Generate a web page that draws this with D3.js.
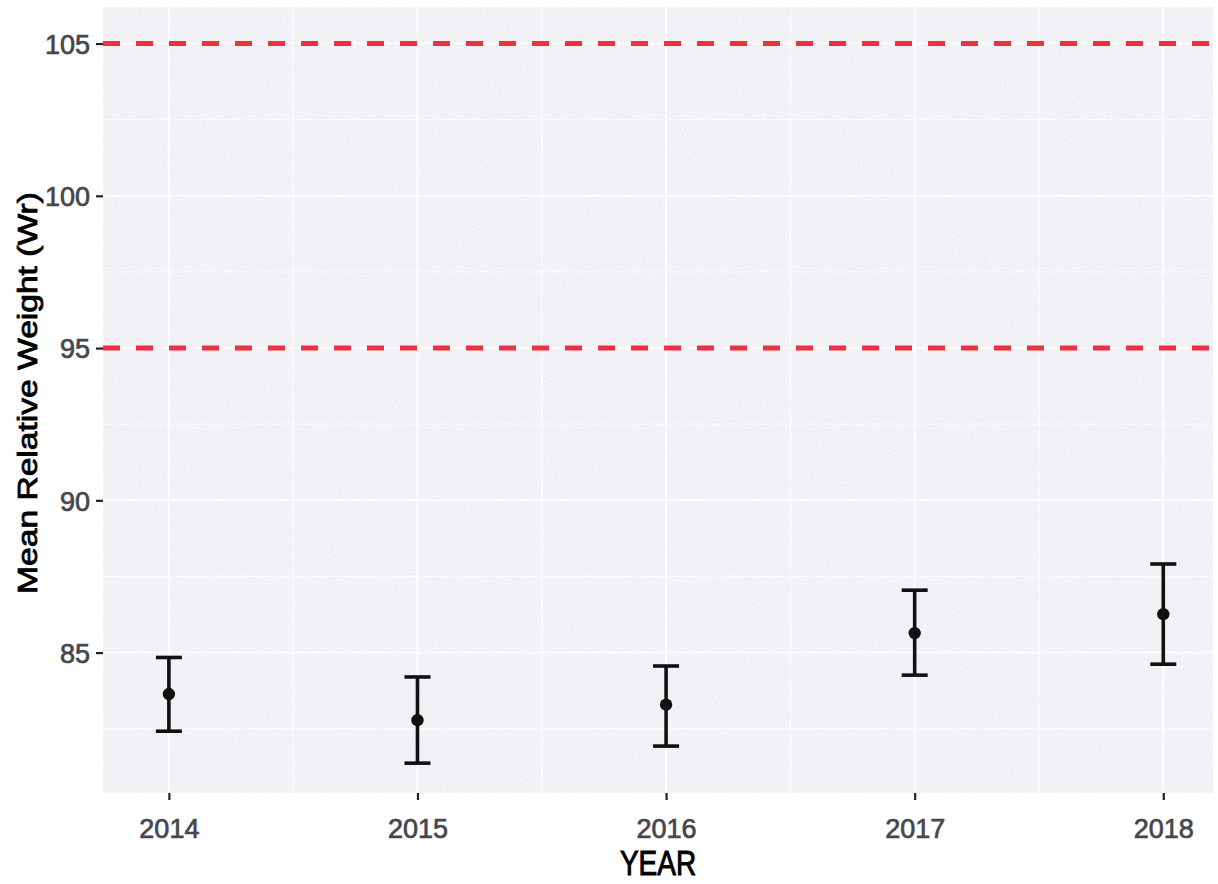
<!DOCTYPE html>
<html>
<head>
<meta charset="utf-8">
<script src="https://cdn.jsdelivr.net/npm/d3@7"></script>
<style>
  html, body { margin: 0; padding: 0; background: #ffffff; }
  svg { display: block; }
</style>
</head>
<body>
<svg id="chart" width="1218" height="884"></svg>
<script>
// Mean relative weight (Wr) per sampling year, with error bar limits
const years = [2014, 2015, 2016, 2017, 2018];
const meanWr = [83.64, 82.78, 83.29, 85.64, 86.26];
const upperWr = [84.84, 84.20, 84.56, 87.05, 87.91];
const lowerWr = [82.42, 81.37, 81.93, 84.26, 84.62];
// Target range reference lines
const targetLines = [95, 105];
const yTicks = [85, 90, 95, 100, 105];
const xTicks = [2014, 2015, 2016, 2017, 2018];

const W = 1218, H = 884;
const margin = { left: 103, right: 5, top: 7, bottom: 91 };
const svg = d3.select("#chart");

const x = d3.scaleLinear()
  .domain([2013.735, 2018.2])
  .range([margin.left, W - margin.right]);
const y = d3.scaleLinear()
  .domain([80.39, 106.2])
  .range([H - margin.bottom, margin.top]);

// Speckled texture for the panel
const defs = svg.append("defs");
const grain = defs.append("filter").attr("id", "grain")
  .attr("x", 0).attr("y", 0).attr("width", 1).attr("height", 1);
grain.append("feTurbulence").attr("type", "fractalNoise")
  .attr("baseFrequency", 0.75).attr("numOctaves", 2).attr("seed", 7).attr("result", "noise");
grain.append("feColorMatrix").attr("in", "noise").attr("type", "matrix")
  .attr("values", "0 0 0 0 0.5  0 0 0 0 0.5  0 0 0 0 0.58  0 0 0 -2.2 1.25")
  .attr("result", "tint");
grain.append("feComposite").attr("in", "tint").attr("in2", "SourceGraphic").attr("operator", "in");

// Panel background
const px0 = x.range()[0], px1 = x.range()[1];
const py0 = y.range()[1], py1 = y.range()[0];
svg.append("rect")
  .attr("x", px0).attr("y", py0)
  .attr("width", px1 - px0).attr("height", py1 - py0)
  .attr("fill", "#f4f4f8");
svg.append("rect")
  .attr("x", px0).attr("y", py0)
  .attr("width", px1 - px0).attr("height", py1 - py0)
  .attr("fill", "#000")
  .attr("opacity", 0.22)
  .attr("filter", "url(#grain)");

// Grid lines (minor then major), faint on the light panel
const grid = svg.append("g");
const yMinor = [82.5, 87.5, 92.5, 97.5, 102.5];
const xMinor = [2014.5, 2015.5, 2016.5, 2017.5];
grid.selectAll(".ymin").data(yMinor).join("line")
  .attr("x1", px0).attr("x2", px1)
  .attr("y1", d => y(d)).attr("y2", d => y(d))
  .attr("stroke", "#fcfcfe").attr("stroke-width", 1.3).attr("opacity", 0.8);
grid.selectAll(".xmin").data(xMinor).join("line")
  .attr("y1", py0).attr("y2", py1)
  .attr("x1", d => x(d)).attr("x2", d => x(d))
  .attr("stroke", "#fcfcfe").attr("stroke-width", 1.3).attr("opacity", 0.8);
grid.selectAll(".ymaj").data(yTicks).join("line")
  .attr("x1", px0).attr("x2", px1)
  .attr("y1", d => y(d)).attr("y2", d => y(d))
  .attr("stroke", "#ffffff").attr("stroke-width", 2).attr("opacity", 0.8);
grid.selectAll(".xmaj").data(xTicks).join("line")
  .attr("y1", py0).attr("y2", py1)
  .attr("x1", d => x(d)).attr("x2", d => x(d))
  .attr("stroke", "#ffffff").attr("stroke-width", 2).attr("opacity", 0.8);

// Dashed target lines
svg.append("g").selectAll("line").data(targetLines).join("line")
  .attr("x1", px0).attr("x2", px1)
  .attr("y1", d => y(d)).attr("y2", d => y(d))
  .attr("stroke", "#ee3140")
  .attr("stroke-width", 5)
  .attr("stroke-dasharray", "17,16");

// Error bars and means
const rows = years.map((yr, i) => ({ yr, m: meanWr[i], hi: upperWr[i], lo: lowerWr[i] }));
const capHalf = 13;
const eb = svg.append("g").attr("stroke", "#111").attr("stroke-width", 3.6).attr("fill", "none");
eb.selectAll(".stem").data(rows).join("line")
  .attr("x1", d => x(d.yr)).attr("x2", d => x(d.yr))
  .attr("y1", d => y(d.hi)).attr("y2", d => y(d.lo));
eb.selectAll(".capTop").data(rows).join("line")
  .attr("x1", d => x(d.yr) - capHalf).attr("x2", d => x(d.yr) + capHalf)
  .attr("y1", d => y(d.hi)).attr("y2", d => y(d.hi));
eb.selectAll(".capBot").data(rows).join("line")
  .attr("x1", d => x(d.yr) - capHalf).attr("x2", d => x(d.yr) + capHalf)
  .attr("y1", d => y(d.lo)).attr("y2", d => y(d.lo));
svg.append("g").selectAll("circle").data(rows).join("circle")
  .attr("cx", d => x(d.yr)).attr("cy", d => y(d.m))
  .attr("r", 6.2).attr("fill", "#111");

// Axes
const fontFam = "'Liberation Sans', Arial, sans-serif";
const yAxis = svg.append("g")
  .attr("transform", `translate(${px0},0)`)
  .call(d3.axisLeft(y).tickValues(yTicks).tickSize(7).tickPadding(6).tickFormat(d3.format("d")));
yAxis.select(".domain").remove();
yAxis.selectAll(".tick line").attr("stroke", "#222").attr("stroke-width", 2.2);
yAxis.selectAll(".tick text")
  .attr("fill", "#46464e").attr("stroke", "#46464e").attr("stroke-width", 0.7)
  .style("font-family", fontFam).style("font-size", "27px")
  .attr("dy", "0.36em");

const xAxis = svg.append("g")
  .attr("transform", `translate(0,${py1})`)
  .call(d3.axisBottom(x).tickValues(xTicks).tickSize(7).tickFormat(d3.format("d")));
xAxis.select(".domain").remove();
xAxis.selectAll(".tick line").attr("stroke", "#222").attr("stroke-width", 2.2);
xAxis.selectAll(".tick text")
  .attr("y", 45).attr("dy", 0)
  .attr("fill", "#46464e").attr("stroke", "#46464e").attr("stroke-width", 0.7)
  .style("font-family", fontFam).style("font-size", "27px");

// Axis titles
svg.append("text")
  .attr("transform", `translate(${(px0 + px1) / 2},875) scale(1,1.25)`)
  .attr("text-anchor", "middle")
  .style("font-family", fontFam).style("font-size", "28px")
  .attr("fill", "#000").attr("stroke", "#000").attr("stroke-width", 0.8)
  .text("YEAR");
svg.append("text")
  .attr("transform", `translate(37,393) rotate(-90) scale(1.2,1)`)
  .attr("text-anchor", "middle")
  .style("font-family", fontFam).style("font-size", "28px")
  .attr("fill", "#000").attr("stroke", "#000").attr("stroke-width", 0.8)
  .text("Mean Relative Weight (Wr)");
</script>
</body>
</html>
